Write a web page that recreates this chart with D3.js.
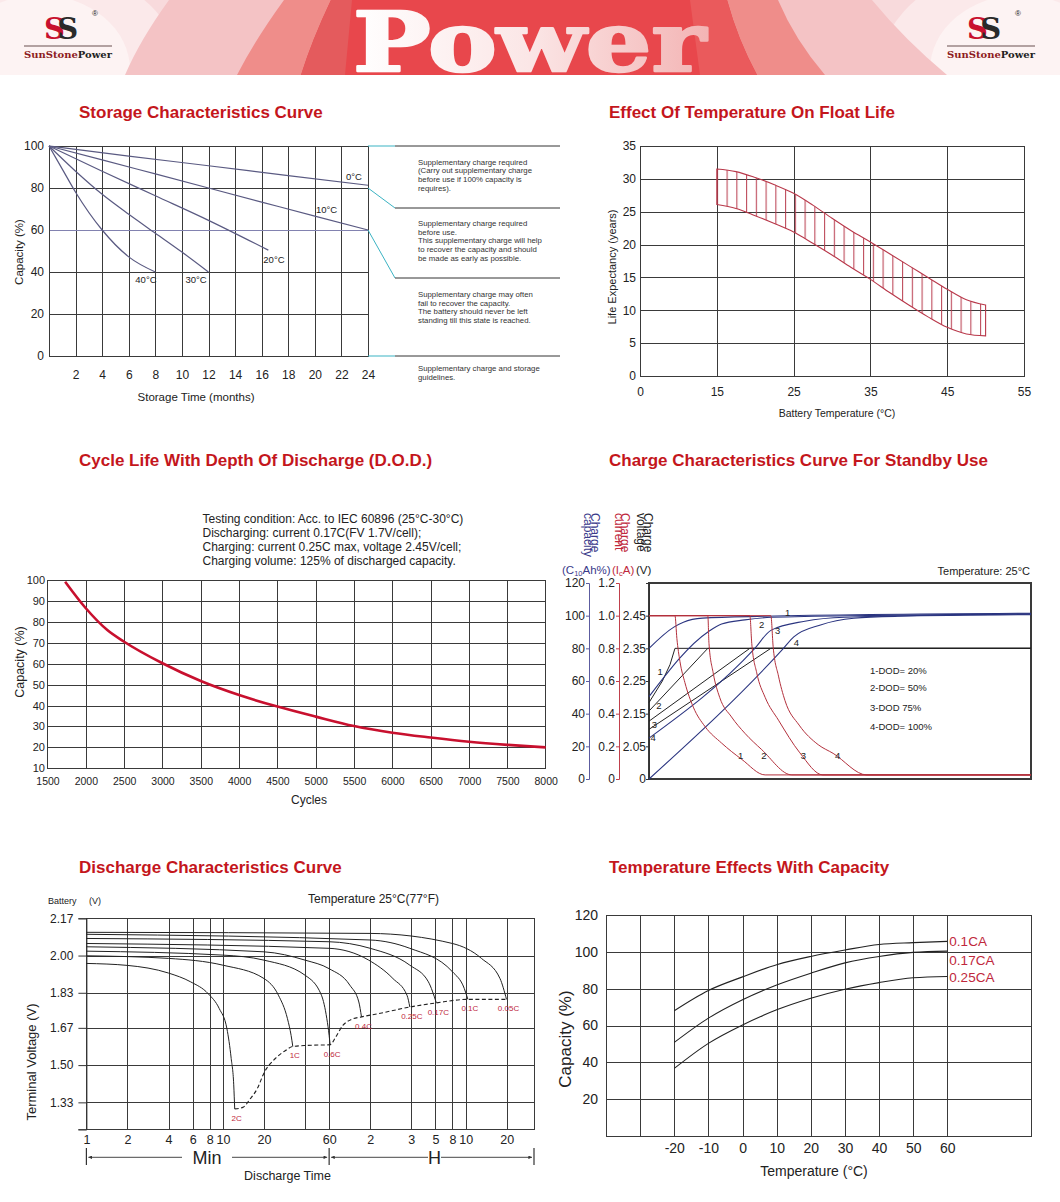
<!DOCTYPE html>
<meta charset="utf-8">
<head>
    <title>Battery characteristics</title>
</head>
<style>
body { margin: 0; background: #fff; }
svg text { font-family: "Liberation Sans", Arial, sans-serif; fill: #222; }
.title { font-size: 17px; font-weight: bold; fill: #c4161c; }
.grid line { stroke: #3a3a3a; stroke-width: 1; shape-rendering: crispEdges; }
.grid path { display: none; }
.frame { fill: none; stroke: #3a3a3a; stroke-width: 1; shape-rendering: crispEdges; }
.lbl path, .lbl line { display: none; }
.curve { fill: none; }
</style>
<body>
<script src="https://cdn.jsdelivr.net/npm/d3@7"></script>
<script>

// ---------- storage characteristics ----------
var storageMonths = [2,4,6,8,10,12,14,16,18,20,22,24];
var storageCapTicks = [0,20,40,60,80,100];
var storageNames = ["0°C","10°C","20°C","30°C","40°C"];
var storage0  = [[0,100],[6,95.2],[12,90.6],[18,85.9],[24,81.3]];
var storage10 = [[0,100],[4,93.4],[8,86.7],[12,80],[16,73.3],[20,66.6],[24,60]];
var storage20 = [[0,100],[4,88],[8,76.3],[12,64.6],[16.5,50.4]];
var storage30 = [[0,100],[2,88],[4,77],[6,67.5],[8,58.5],[10,49.5],[12,40]];
var storage40 = [[0,100],[1,89],[2,78],[4,60],[6,47.2],[8,40]];
var storageNotes = [
  ["Supplementary charge required", "(Carry out supplementary charge", "before use if 100% capacity is", "requires)."],
  ["Supplementary charge required", "before use.", "This supplementary charge will help", "to recover the capacity and should", "be made as early as possible."],
  ["Supplementary charge may often", "fail to recover the capacity.", "The battery should never be left", "standing till this state is reached."],
  ["Supplementary charge and storage", "guidelines."]
];

// ---------- float life ----------
var floatTempTicks = [0,15,25,35,45,55];
var floatLifeTicks = [0,5,10,15,20,25,30,35];
var floatTemps = [15,17.5,20,22.5,25,27.5,30,32.5,35,37.5,40,42.5,45,47.5,50];
var floatUpper = [31.5,31.1,30.2,29.1,27.8,26.0,24.0,22.1,20.4,18.6,16.8,15.0,13.2,11.6,10.8];
var floatLower = [26.1,25.5,24.4,23.2,21.9,20.2,18.4,16.5,14.7,12.7,10.8,9.0,7.4,6.4,6.1];

// ---------- cycle life ----------
var cycleTicks = [1500,2000,2500,3000,3500,4000,4500,5000,5500,6000,6500,7000,7500,8000];
var cycleCapTicks = [10,20,30,40,50,60,70,80,90,100];
var cycleCount = [1730,2000,2280,2500,3000,3500,4000,4500,5000,5500,6000,6500,7000,7500,8000];
var cycleCap   = [99.2,86.5,76.1,70.5,60.2,51.7,45.0,39.5,34.7,30.2,27.0,24.7,22.7,21.2,20.0];
var cycleNotes = [
  "Testing condition:\u2009Acc. to IEC 60896 (25°C-30°C)",
  "Discharging: current 0.17C(FV 1.7V/cell);",
  "Charging: current 0.25C max, voltage 2.45V/cell;",
  "Charging volume: 125% of discharged capacity."
];

// ---------- charge characteristics ----------
var chargeCapTicks = [0,20,40,60,80,100,120];
var chargeCurTicks = [0,0.2,0.4,0.6,0.8,1.0,1.2];
var chargeVoltTicks = [1.95,2.05,2.15,2.25,2.35,2.45];
var dodLegend = ["1-DOD= 20%","2-DOD= 50%","3-DOD 75%","4-DOD= 100%"];
var currentCurves = [
  [[0,1],[6.8,1],[7.3,0.86],[8.1,0.72],[9.4,0.59],[11.6,0.44],[14.7,0.32],[19,0.22],[24.3,0.12],[30.4,0.025],[100,0.025]],
  [[0,1],[15.4,1],[15.7,0.83],[16.8,0.65],[18.5,0.5],[21.6,0.38],[25.1,0.28],[29.5,0.18],[37.4,0.025],[100,0.025]],
  [[0,1],[26.4,1],[26.9,0.83],[28.2,0.65],[30.4,0.5],[33.9,0.36],[39.5,0.16],[45.5,0.025],[100,0.025]],
  [[0,1],[31.9,1],[32.5,0.81],[33.9,0.63],[35.6,0.48],[39.3,0.33],[44.3,0.21],[48.2,0.157],[57,0.025],[100,0.025]]
];
var voltageCurves = [
  [[0,2.184],[3.5,2.25],[5.5,2.30],[6.8,2.35],[100,2.35]],
  [[0,2.158],[15.4,2.35],[100,2.35]],
  [[0,2.127],[26.4,2.35],[100,2.35]],
  [[0,2.102],[31.9,2.35],[100,2.35]]
];
var capacityCurves = [
  [[0,80],[6.5,93],[9,96],[14,98.5],[30,99.6],[100,101.5]],
  [[0,50.4],[15.5,90.2],[19,94.9],[25.1,97.4],[32.1,99],[60,100.2],[100,101.2]],
  [[0,25],[27.7,80],[31.9,91],[40.8,96.6],[51.3,99],[100,100.9]],
  [[0,0],[35.2,80],[37.9,87],[44.9,94.3],[53.6,98.4],[65,99.6],[100,100.6]]
];

// ---------- discharge characteristics ----------
var dischargeTickMinutes = [1,2,4,6,8,10,20,40,60,120,240,360,480,600,1200];
var dischargeTickLabels  = ["1","2","4","6","8","10","20","","60","2","3","5","8","10","20"];
var dischargeVoltTicks = [1.33,1.50,1.67,1.83,2.00,2.17];
var dischargeRates = ["2C","1C","0.6C","0.4C","0.25C","0.17C","0.1C","0.05C"];
var dischargeCurves = [
  [[1,1.964],[2,1.955],[4,1.92],[5.8,1.88],[7.8,1.826],[9.4,1.758],[10.7,1.666],[11.5,1.53],[12,1.41],[12.2,1.30]],
  [[1,1.999],[4,1.987],[10,1.956],[20,1.895],[25.5,1.819],[29.7,1.712],[31.6,1.635],[32.5,1.585]],
  [[1,2.02],[10,2.002],[20,1.979],[40,1.91],[52.7,1.819],[57.7,1.712],[60,1.635],[61,1.593]],
  [[1,2.04],[20,2.017],[40,1.979],[60,1.94],[85,1.865],[99,1.788],[103.5,1.72]],
  [[1,2.055],[60,2.033],[117,1.979],[176,1.895],[223,1.819],[234,1.765]],
  [[1,2.078],[60,2.063],[120,2.033],[234,1.956],[320,1.88],[366,1.784]],
  [[1,2.097],[120,2.071],[234,2.033],[480,1.926],[586,1.85],[623,1.80]],
  [[1,2.106],[120,2.101],[480,2.055],[783,1.987],[1071,1.895],[1195,1.80]]
];
var cutoffCurve = [[12.2,1.30],[14,1.307],[15.8,1.345],[17.8,1.391],[20.1,1.467],[24.1,1.529],[28.8,1.567],
  [32.5,1.585],[41.4,1.59],[61,1.593],[67,1.628],[75.6,1.681],[87.9,1.709],[103.5,1.72],[138,1.735],
  [234,1.765],[366,1.784],[623,1.80],[1195,1.80]];

// ---------- temperature vs capacity ----------
var tempTicks = [-20,-10,0,10,20,30,40,50,60];
var tempCapTicks = [20,40,60,80,100,120];
var tempRates = ["0.1CA","0.17CA","0.25CA"];
var tempCap01  = [68,79,86.4,93,97.5,101,104,105,105.7];
var tempCap017 = [50.8,64,74,82,88.4,94,97.5,99.7,100.4];
var tempCap025 = [36.7,50.3,60.3,68.5,74.8,79.7,83.3,85.9,86.6];


var svg = d3.select("body").append("svg")
    .attr("width", 1060)
    .attr("height", 1202);
var defs = svg.append("defs");

function drawGrid(g, x, y, xVals, yVals) {
  var xr = x.range(), yr = y.range();
  var x0 = xr[0], x1 = xr[xr.length - 1], y0 = yr[0], y1 = yr[yr.length - 1];
  g.append("g").attr("class", "grid")
      .attr("transform", "translate(0," + y0 + ")")
      .call(d3.axisBottom(x).tickValues(xVals).tickSize(y1 - y0).tickFormat(""));
  g.append("g").attr("class", "grid")
      .attr("transform", "translate(" + x0 + ",0)")
      .call(d3.axisLeft(y).tickValues(yVals).tickSize(x0 - x1).tickFormat(""));
  g.append("rect").attr("class", "frame")
      .attr("x", x0).attr("y", y1).attr("width", x1 - x0).attr("height", y0 - y1);
}

function labelsLeft(g, y, x0, vals, fmt, size, pad) {
  return g.append("g").attr("class", "lbl")
      .attr("transform", "translate(" + x0 + ",0)")
      .call(d3.axisLeft(y).tickValues(vals).tickSize(0).tickPadding(pad).tickFormat(fmt))
      .attr("font-size", size);
}

function labelsBottom(g, x, y0, vals, fmt, size, pad) {
  return g.append("g").attr("class", "lbl")
      .attr("transform", "translate(0," + y0 + ")")
      .call(d3.axisBottom(x).tickValues(vals).tickSize(0).tickPadding(pad).tickFormat(fmt))
      .attr("font-size", size);
}

function vLabel(g, txt, cx, cy, size) {
  g.append("text")
      .attr("transform", "translate(" + cx + "," + cy + ") rotate(-90)")
      .attr("text-anchor", "middle").attr("dy", "0.35em")
      .style("font-size", size + "px")
      .text(txt);
}

function hLabel(g, txt, cx, y, size) {
  g.append("text").attr("x", cx).attr("y", y)
      .attr("text-anchor", "middle")
      .style("font-size", size + "px")
      .text(txt);
}

function title(txt, x, y) {
  svg.append("text").attr("class", "title").attr("x", x).attr("y", y).text(txt);
}

// ================= header banner =================
var head = svg.append("g");
defs.append("clipPath").attr("id", "headClip")
  .append("rect").attr("width", 1060).attr("height", 75);
var hb = head.append("g").attr("clip-path", "url(#headClip)");
hb.append("rect").attr("width", 1060).attr("height", 75).style("fill", "#f8dadc");
hb.append("ellipse").attr("cx", 40).attr("cy", 70).attr("rx", 140).attr("ry", 105).style("fill", "#fbe9ea");
hb.append("ellipse").attr("cx", 40).attr("cy", 70).attr("rx", 90).attr("ry", 75).style("fill", "#fdf3f3");
hb.append("ellipse").attr("cx", 1020).attr("cy", 70).attr("rx", 140).attr("ry", 105).style("fill", "#fbe9ea");
hb.append("ellipse").attr("cx", 1020).attr("cy", 70).attr("rx", 90).attr("ry", 75).style("fill", "#fdf3f3");
hb.append("path").attr("d", "M169,0 L872,0 Q905,40 947,75 L125,75 Q140,40 169,0Z").style("fill", "#f4c3c5");
hb.append("path").attr("d", "M284,0 L778,0 Q795,40 825,75 L237,75 Q255,40 284,0Z").style("fill", "#ef8d8a");
hb.append("path").attr("d", "M331,0 L727,0 Q738,40 757,75 L301,75 Q312,40 331,0Z").style("fill", "#e8474c");
hb.append("path").attr("d", "M331,0 L352,0 L345,75 L301,75 Q312,40 331,0Z").style("fill", "#e45b5d");
hb.append("path").attr("d", "M690,0 L727,0 Q738,40 757,75 L700,75Z").style("fill", "#ea5a5c");

var pg = defs.append("linearGradient").attr("id", "powerGrad")
    .attr("gradientUnits", "userSpaceOnUse")
    .attr("x1", 352).attr("x2", 708).attr("y1", 0).attr("y2", 0);
pg.append("stop").attr("offset", "0%").attr("stop-color", "#ffffff");
pg.append("stop").attr("offset", "50%").attr("stop-color", "#fbe6e6");
pg.append("stop").attr("offset", "100%").attr("stop-color", "#f3b4b4");
head.append("text")
    .attr("x", 353).attr("y", 71)
    .attr("textLength", 353).attr("lengthAdjust", "spacingAndGlyphs")
    .style("font-family", "'DejaVu Serif', serif").style("font-weight", "bold")
    .style("font-size", "82px").style("fill", "url(#powerGrad)")
    .style("stroke", "url(#powerGrad)").style("stroke-width", 2.5)
    .style("stroke-linejoin", "round")
    .text("Power");

function logo(x) {
  var l = head.append("g").attr("transform", "translate(" + x + ",0)");
  var ss = l.append("text").attr("x", 20).attr("y", 39)
      .style("font-family", "'DejaVu Serif', serif").style("font-weight", "bold")
      .style("font-size", "29px");
  ss.append("tspan").text("S").style("fill", "#c8102e");
  ss.append("tspan").attr("dx", -7).text("S").style("fill", "#2a2a2a");
  l.append("text").attr("x", 68).attr("y", 16).text("®").style("font-size", "8px");
  l.append("line").attr("x1", 0).attr("x2", 88).attr("y1", 46).attr("y2", 46)
      .style("stroke", "#9a8686").style("stroke-width", 1.5);
  var t = l.append("text").attr("x", 0).attr("y", 57.5)
      .attr("textLength", 88).attr("lengthAdjust", "spacingAndGlyphs")
      .style("font-family", "'DejaVu Serif', serif").style("font-weight", "bold")
      .style("font-size", "9.5px");
  t.append("tspan").text("SunStone").style("fill", "#8e1b22");
  t.append("tspan").text("Power").style("fill", "#222");
}
logo(24);
logo(947);

// ================= storage characteristics =================
title("Storage Characteristics Curve", 79, 118);
var gS = svg.append("g");
var xS = d3.scaleLinear().domain([0, 24]).range([49, 368]);
var yS = d3.scaleLinear().domain([0, 100]).range([356, 146]);
drawGrid(gS, xS, yS, storageMonths, [20, 40, 60, 80]);
gS.selectAll(".grid line").filter(function(d) { return d === 60; }).style("stroke", "#8282b0");
labelsLeft(gS, yS, 49, storageCapTicks, d3.format("d"), 12, 5);
labelsBottom(gS, xS, 356, storageMonths, d3.format("d"), 12, 14);
hLabel(gS, "Storage Time (months)", 196, 401, 11.5);
vLabel(gS, "Capacity (%)", 19, 252, 11.5);

var storageLine = d3.line()
    .x(function(d) { return xS(d[0]); })
    .y(function(d) { return yS(d[1]); })
    .curve(d3.curveMonotoneX);
var storageSeries = [storage0, storage10, storage20, storage30, storage40];
gS.selectAll(".storage").data(storageSeries).enter().append("path")
    .attr("class", "curve")
    .attr("d", storageLine)
    .style("stroke", "#5a5a82").style("stroke-width", 1.2);

// label offsets from each curve end
var storageLabelOff = [[-22, -5], [-52, -17], [-5, 13], [-23, 11], [-20, 11]];
storageSeries.forEach(function(s, i) {
  var e = s[s.length - 1];
  gS.append("text")
      .attr("x", xS(e[0]) + storageLabelOff[i][0])
      .attr("y", yS(e[1]) + storageLabelOff[i][1])
      .style("font-size", "9.5px")
      .text(storageNames[i]);
});

// connectors and notes on the right
var sx1 = xS(24), sx2 = sx1 + 27, sx3 = 560;
var storageLevels = [[100, 146], [80, 208], [60, 278], [0, 356]];
storageLevels.forEach(function(c) {
  gS.append("line").attr("x1", sx1).attr("y1", yS(c[0])).attr("x2", sx2).attr("y2", c[1])
      .style("stroke", "#3bb3c3").style("stroke-width", 1);
  gS.append("line").attr("x1", sx2).attr("y1", c[1]).attr("x2", sx3).attr("y2", c[1])
      .style("stroke", "#333").style("stroke-width", 1);
});
var noteStart = [164.5, 226, 296.8, 371];
storageNotes.forEach(function(block, i) {
  block.forEach(function(line, j) {
    gS.append("text").attr("x", 418).attr("y", noteStart[i] + j * 8.7)
        .style("font-size", "7.8px").style("fill", "#333")
        .text(line);
  });
});

// ================= float life =================
title("Effect Of Temperature On Float Life", 609, 118);
var gF = svg.append("g");
var xF = d3.scaleLinear().domain([0, 15, 55]).range([640, 716.8, 1024]);
var yF = d3.scaleLinear().domain([0, 35]).range([376, 146]);
drawGrid(gF, xF, yF, [15, 25, 35, 45], [5, 10, 15, 20, 25, 30]);
labelsLeft(gF, yF, 640, floatLifeTicks, d3.format("d"), 12, 4);
labelsBottom(gF, xF, 376, floatTempTicks, d3.format("d"), 12, 11);
hLabel(gF, "Battery Temperature (°C)", 837, 417, 10.5);
vLabel(gF, "Life Expectancy (years)", 612, 267, 11);

var hatch = defs.append("pattern").attr("id", "hatch")
    .attr("patternUnits", "userSpaceOnUse")
    .attr("x", xF(15)).attr("y", 0).attr("width", 9.75).attr("height", 400);
hatch.append("line").attr("x1", 0.6).attr("x2", 0.6).attr("y1", 0).attr("y2", 400)
    .style("stroke", "#b8384a").style("stroke-width", 1);
var floatData = floatTemps.map(function(t, i) { return [t, floatLower[i], floatUpper[i]]; });
var floatArea = d3.area()
    .x(function(d) { return xF(d[0]); })
    .y0(function(d) { return yF(d[1]); })
    .y1(function(d) { return yF(d[2]); })
    .curve(d3.curveMonotoneX);
gF.append("path").datum(floatData)
    .attr("d", floatArea)
    .style("fill", "url(#hatch)")
    .style("stroke", "#b8384a").style("stroke-width", 1.1);

// ================= cycle life =================
title("Cycle Life With Depth Of Discharge (D.O.D.)", 79, 466);
var gC = svg.append("g");
var xC = d3.scaleLinear().domain([1500, 8000]).range([47.5, 545.7]);
var yC = d3.scaleLinear().domain([10, 100]).range([768.3, 580]);
drawGrid(gC, xC, yC, cycleTicks.slice(1, -1), cycleCapTicks.slice(1, -1));
labelsLeft(gC, yC, 47.5, cycleCapTicks, d3.format("d"), 11, 2.5);
labelsBottom(gC, xC, 768.3, cycleTicks, d3.format("d"), 10.5, 9);
hLabel(gC, "Cycles", 309, 804, 12);
vLabel(gC, "Capacity (%)", 20, 662, 12.5);
cycleNotes.forEach(function(t, i) {
  gC.append("text").attr("x", 202.5).attr("y", 523.3 + i * 14)
      .style("font-size", "12px").text(t);
});
var cycleLine = d3.line()
    .x(function(d, i) { return xC(cycleCount[i]); })
    .y(function(d) { return yC(d); })
    .curve(d3.curveMonotoneX);
gC.append("path").datum(cycleCap)
    .attr("class", "curve")
    .attr("d", cycleLine)
    .style("stroke", "#c8102e").style("stroke-width", 2.6);

// ================= charge characteristics =================
title("Charge Characteristics Curve For Standby Use", 609, 466);
var gQ = svg.append("g");
var xQ = d3.scaleLinear().domain([0, 100]).range([649, 1031]);
var yCap = d3.scaleLinear().domain([0, 120]).range([779, 583]);
var yCur = d3.scaleLinear().domain([0, 1.2]).range([779, 583]);
var yVolt = d3.scaleLinear().domain([1.95, 2.55]).range([779, 583]);
gQ.append("rect").attr("class", "frame")
    .attr("x", 649).attr("y", 583).attr("width", 382).attr("height", 196)
    .style("stroke-width", 1.2);

var capAxis = gQ.append("g").attr("transform", "translate(589,0)")
    .call(d3.axisLeft(yCap).tickValues(chargeCapTicks).tickSize(3).tickPadding(1).tickFormat(d3.format("d")))
    .attr("font-size", 12);
capAxis.selectAll("path,line").style("stroke", "#5c5ca0");
var curAxis = gQ.append("g").attr("transform", "translate(619,0)")
    .call(d3.axisLeft(yCur).tickValues(chargeCurTicks).tickSize(3).tickPadding(1)
      .tickFormat(function(d) { return d === 0 ? "0" : d3.format(".1f")(d); }))
    .attr("font-size", 12);
curAxis.selectAll("path,line").style("stroke", "#c0404c");
var voltAxis = gQ.append("g").attr("transform", "translate(649,0)")
    .call(d3.axisLeft(yVolt).tickValues(chargeVoltTicks).tickSize(3).tickPadding(0)
      .tickFormat(function(d) { return d < 2 ? "0" : d3.format(".2f")(d); }))
    .attr("font-size", 12);
voltAxis.selectAll("path,line").style("stroke", "#333");

var hdrCols = [
  {c: "#3a3a8a", lines: ["Charge", "capacity"], xs: [591, 584]},
  {c: "#c0283c", lines: ["Charge", "current"], xs: [621, 614.5]},
  {c: "#222", lines: ["Charge", "voltage"], xs: [644, 636.5]}
];
hdrCols.forEach(function(h) {
  h.lines.forEach(function(t, i) {
    gQ.append("text")
        .attr("transform", "translate(" + h.xs[i] + ",513) rotate(90)")
        .style("font-size", "12px").style("fill", h.c)
        .text(t);
  });
});
var u1 = gQ.append("text").attr("x", 562).attr("y", 573.5).style("font-size", "11.5px").style("fill", "#3a3a8a");
u1.append("tspan").text("(C");
u1.append("tspan").attr("dy", 2).style("font-size", "7.5px").text("10");
u1.append("tspan").attr("dy", -2).text("Ah%)");
var u2 = gQ.append("text").attr("x", 612).attr("y", 573.5).style("font-size", "11.5px").style("fill", "#c0283c");
u2.append("tspan").text("(I");
u2.append("tspan").attr("dy", 2).style("font-size", "7.5px").text("c");
u2.append("tspan").attr("dy", -2).text("A)");
gQ.append("text").attr("x", 636).attr("y", 573.5).style("font-size", "11.5px").text("(V)");
gQ.append("text").attr("x", 1030).attr("y", 575).attr("text-anchor", "end")
    .style("font-size", "11px").text("Temperature: 25°C");
dodLegend.forEach(function(t, i) {
  gQ.append("text").attr("x", 870).attr("y", [674.3, 691, 710.6, 730][i])
      .style("font-size", "9.5px").text(t);
});

var curLine = d3.line()
    .x(function(d) { return xQ(d[0]); })
    .y(function(d) { return yCur(d[1]); })
    .curve(d3.curveMonotoneX);
var voltLine = d3.line()
    .x(function(d) { return xQ(d[0]); })
    .y(function(d) { return yVolt(d[1]); });
var capLine = d3.line()
    .x(function(d) { return xQ(d[0]); })
    .y(function(d) { return yCap(d[1]); })
    .curve(d3.curveMonotoneX);
gQ.selectAll(".vcurve").data(voltageCurves).enter().append("path")
    .attr("class", "curve").attr("d", voltLine)
    .style("stroke", "#222").style("stroke-width", 1);
gQ.selectAll(".ccurve").data(capacityCurves).enter().append("path")
    .attr("class", "curve").attr("d", capLine)
    .style("stroke", "#2b3580").style("stroke-width", 1.1);
gQ.selectAll(".icurve").data(currentCurves).enter().append("path")
    .attr("class", "curve").attr("d", curLine)
    .style("stroke", "#b3303c").style("stroke-width", 1);

// curve numbers (time, capacity-axis units)
var chargeNums = [
  [24.0, 14.3], [30.1, 14.3], [40.4, 14.1], [49.4, 14.3],
  [2.9, 65.7], [2.6, 44.7], [1.4, 33.1], [1.1, 25.6],
  [36.3, 102.1], [29.5, 94.3], [33.7, 90.9], [38.6, 83.2]
];
chargeNums.forEach(function(p, i) {
  gQ.append("text").attr("x", xQ(p[0])).attr("y", yCap(p[1]))
      .attr("text-anchor", "middle").attr("dy", "0.35em")
      .style("font-size", "9.5px")
      .text(String(i % 4 + 1));
});

// ================= discharge characteristics =================
title("Discharge Characteristics Curve", 79, 873);
var gD = svg.append("g");
var xD = d3.scaleLog().domain([1, 1900]).range([86.4, 534]);
var yD = d3.scaleLinear().domain([1.207, 2.17]).range([1129.3, 918.3]);
drawGrid(gD, xD, yD, dischargeTickMinutes.slice(1), dischargeVoltTicks.slice(0, -1));
var dAxis = gD.append("g").attr("transform", "translate(86.4,0)")
    .call(d3.axisLeft(yD).tickValues(dischargeVoltTicks.concat([1.207])).tickSize(8).tickPadding(5)
      .tickFormat(function(d) { return d < 1.3 ? "" : d3.format(".2f")(d); }))
    .attr("font-size", 12);
dAxis.selectAll("path,line").style("stroke", "#333");
labelsBottom(gD, xD, 1129.3, dischargeTickMinutes, function(d, i) { return dischargeTickLabels[i]; }, 12.5, 6);
gD.append("text").attr("x", 48).attr("y", 904).style("font-size", "9px").text("Battery");
gD.append("text").attr("x", 89).attr("y", 904).style("font-size", "9px").text("(V)");
gD.append("text").attr("x", 308).attr("y", 903).style("font-size", "12px").text("Temperature 25°C(77°F)");
vLabel(gD, "Terminal Voltage (V)", 31, 1062, 13);
hLabel(gD, "Discharge Time", 287.5, 1180, 12.5);

// Min / H brackets
var bx = [xD(1), xD(60), xD(1900)];
bx.forEach(function(x) {
  gD.append("line").attr("x1", x).attr("x2", x).attr("y1", 1148).attr("y2", 1165)
      .style("stroke", "#333").style("stroke-width", 1.2);
});
defs.append("marker").attr("id", "arr").attr("viewBox", "0 0 10 10")
    .attr("refX", 10).attr("refY", 5).attr("markerWidth", 6).attr("markerHeight", 4)
    .attr("orient", "auto-start-reverse")
  .append("path").attr("d", "M0,0 L10,5 L0,10Z").style("fill", "#333");
[[bx[0] + 2, 182], [232, bx[1] - 2], [bx[1] + 2, 428], [441, bx[2] - 2]].forEach(function(s, i) {
  gD.append("line").attr("x1", s[0]).attr("x2", s[1]).attr("y1", 1157.3).attr("y2", 1157.3)
      .style("stroke", "#333").style("stroke-width", 0.9)
      .attr(i % 2 === 0 ? "marker-start" : "marker-end", "url(#arr)");
});
hLabel(gD, "Min", 207, 1164, 18);
hLabel(gD, "H", 434.5, 1164, 18);

var dLine = d3.line()
    .x(function(d) { return xD(d[0]); })
    .y(function(d) { return yD(d[1]); })
    .curve(d3.curveMonotoneX);
gD.selectAll(".dcurve").data(dischargeCurves).enter().append("path")
    .attr("class", "curve").attr("d", dLine)
    .style("stroke", "#222").style("stroke-width", 1);
gD.append("path").datum(cutoffCurve)
    .attr("class", "curve").attr("d", dLine)
    .style("stroke", "#222").style("stroke-width", 1.1)
    .style("stroke-dasharray", "4,2.5");
dischargeCurves.forEach(function(s, i) {
  var e = s[s.length - 1];
  gD.append("text").attr("x", xD(e[0]) + 2).attr("y", yD(e[1]) + 12)
      .attr("text-anchor", "middle")
      .style("font-size", "8px").style("fill", "#c0283c")
      .text(dischargeRates[i]);
});

// ================= temperature vs capacity =================
title("Temperature Effects With Capacity", 609, 873);
var gT = svg.append("g");
var xT = d3.scaleLinear().domain([-40, 84.5]).range([606, 1031]);
var yT = d3.scaleLinear().domain([0, 120]).range([1136, 915]);
drawGrid(gT, xT, yT, [-30].concat(tempTicks), [20, 40, 60, 80, 100]);
labelsLeft(gT, yT, 606, tempCapTicks, d3.format("d"), 14, 8);
labelsBottom(gT, xT, 1136, tempTicks, function(d) { return String(d); }, 14, 7);
hLabel(gT, "Temperature (°C)", 814, 1176, 14);
vLabel(gT, "Capacity (%)", 565, 1039, 17);
var tLine = d3.line()
    .x(function(d, i) { return xT(tempTicks[i]); })
    .y(function(d) { return yT(d); })
    .curve(d3.curveMonotoneX);
var tempSeries = [tempCap01, tempCap017, tempCap025];
gT.selectAll(".tcurve").data(tempSeries).enter().append("path")
    .attr("class", "curve").attr("d", tLine)
    .style("stroke", "#222").style("stroke-width", 1.1);
var tempLabelDy = [0, 9, 1];
tempSeries.forEach(function(s, i) {
  gT.append("text").attr("x", xT(60) + 2).attr("y", yT(s[s.length - 1]) + tempLabelDy[i])
      .attr("dy", "0.35em")
      .style("font-size", "13.5px").style("fill", "#c0283c")
      .text(tempRates[i]);
});

</script>
</body>
